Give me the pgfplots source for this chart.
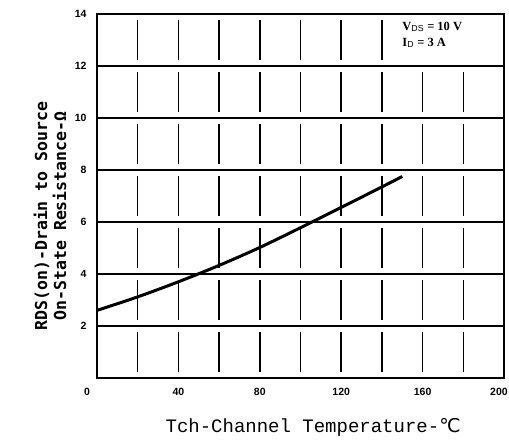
\documentclass[border=0pt]{standalone}
\usepackage{fontspec}
\setmainfont{Liberation Sans}
\newfontfamily\ylabfont{DejaVu Sans Mono}
\newfontfamily\xlabfont{Liberation Mono}
\newfontfamily\annfont{Liberation Serif}
\newfontfamily\symfont{DejaVu Sans}
\usepackage{pgfplots}
\pgfplotsset{compat=1.18}
\begin{document}
\begin{tikzpicture}
\path[use as bounding box] (-97pt,-65pt) rectangle (412pt,378pt);
\begin{axis}[
  scale only axis, width=407pt, height=364pt,
  xmin=0, xmax=200, ymin=0, ymax=14,
  xtick={0,40,...,200}, minor xtick={20,60,...,180},
  xticklabels={,40,80,120,160,},
  ytick={2,4,...,14},
  xmajorgrids, xminorgrids, ymajorgrids,
  major tick length=0pt, minor tick length=0pt,
  axis line style={black, line width=2.2pt},
  major y grid style={black, line width=2.4pt},
  major x grid style={black, line width=1.6pt, dash pattern=on 40pt off 12pt, dash phase=46pt},
  minor x grid style={black, line width=1.6pt, dash pattern=on 40pt off 12pt, dash phase=46pt},
  tick label style={font=\bfseries\fontsize{10.5}{12}\selectfont},
  /pgf/number format/assume math mode=true,
  yticklabel style={xshift=-7pt},
  xticklabel style={anchor=center, yshift=-14pt},
  xlabel={Tch-Channel Temperature-{\symfont ℃}},
  xlabel style={at={(axis description cs:0.531,-0.137)}, anchor=center, font=\xlabfont\fontsize{19}{21}\selectfont},
  ylabel={RDS(on)-Drain to Source\\On-State Resistance-Ω},
  ylabel style={at={(axis description cs:-0.1155,0.445)}, anchor=center, align=center, font=\ylabfont\bfseries\fontsize{16.5}{19}\selectfont},
  clip=false,
]
\addplot[black, line width=3pt, smooth] coordinates {
  (0,2.6) (20,3.12) (40,3.7) (60,4.33) (80,5.02) (100,5.78) (120,6.56) (140,7.35) (150,7.75)
};
\fill[white] (axis cs:141,12.07) rectangle (axis cs:199.2,13.93);
\node[anchor=west, align=left, font=\annfont\bfseries\fontsize{12.5}{16}\selectfont, inner sep=0pt] at (axis cs:150,13.2)
  {V$_{\mathrm{DS}}$ = 10 V\\I$_{\mathrm{D}}$ = 3 A};
\node[font=\bfseries\fontsize{10.5}{12}\selectfont] at ([xshift=-10pt, yshift=-14pt]axis cs:0,0) {0};
\node[font=\bfseries\fontsize{10.5}{12}\selectfont] at ([xshift=-5pt, yshift=-14pt]axis cs:200,0) {200};
\end{axis}
\end{tikzpicture}
\end{document}
